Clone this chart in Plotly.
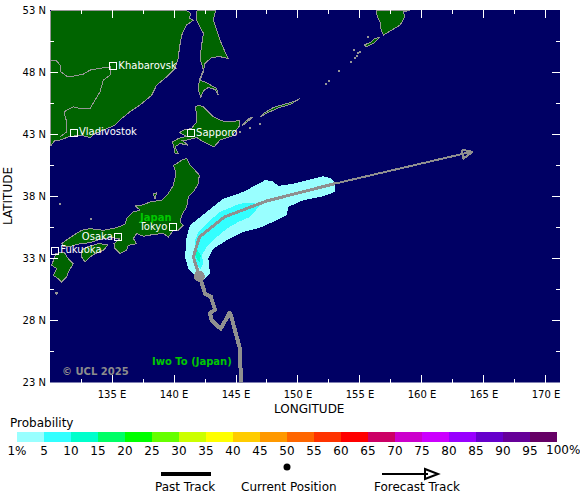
import plotly.graph_objects as go

W, H = 580, 502
OCEAN = "#000064"
LAND = "#006400"
COAST = "#969696"
TRACK = "#8f8f8f"
FONT = "DejaVu Sans"

# colour scale
prob_labels = ["1%", "5", "10", "15", "20", "25", "30", "35", "40", "45", "50",
               "55", "60", "65", "70", "75", "80", "85", "90", "95", ""]
prob_colors = ["#99ffff", "#33ffff", "#00ffcc", "#00ff66", "#00ff00", "#66ff00", "#ccff00",
               "#ffff00", "#ffcc00", "#ff9900", "#ff6600", "#ff3300", "#ff0000", "#cc0066",
               "#cc00cc", "#cc00ff", "#9900ff", "#6600cc", "#660099", "#660066"]

# axes
lon_ticks = [135, 140, 145, 150, 155, 160, 165, 170]
lon_labels = ["135 E", "140 E", "145 E", "150 E", "155 E", "160 E", "165 E", "170 E"]
lat_ticks = [23, 28, 33, 38, 43, 48, 53]
lat_labels = ["23 N", "28 N", "33 N", "38 N", "43 N", "48 N", "53 N"]

# storm track
past_lon = [145.40, 145.32, 144.52, 143.76, 143.04, 142.90, 143.31, 142.96, 142.50, 142.10]
past_lat = [22.90, 25.72, 28.67, 27.33, 28.00, 28.59, 28.86, 29.94, 30.15, 31.49]
now_lon = [142.04]
now_lat = [31.55]
fc_lon = [142.05, 141.56, 142.05, 144.06, 147.48, 152.99]
fc_lat = [31.55, 33.11, 34.72, 36.33, 37.62, 39.02]
fc_end_lon = [152.99, 164.01]
fc_end_lat = [39.02, 41.58]
head_lon = [163.20, 164.09, 163.34, 163.20]
head_lat = [41.76, 41.57, 41.04, 41.76]

# probability swaths
swath1 = [(152.99, 39.02), (152.99, 38.35), (152.05, 38.00), (150.43, 37.68), (149.22, 37.14),
          (149.09, 36.47), (148.28, 36.06), (146.94, 35.47), (145.59, 35.12), (144.25, 34.45),
          (143.17, 33.78), (142.77, 32.97), (142.91, 31.76), (142.37, 31.28), (141.70, 31.63),
          (141.16, 32.17), (140.89, 33.11), (141.02, 34.72), (141.29, 35.66), (142.10, 36.33),
          (142.91, 37.00), (143.98, 37.81), (145.59, 38.35), (146.67, 38.89), (147.34, 39.29),
          (147.88, 39.24), (148.42, 38.83), (149.63, 39.02), (150.97, 39.34), (152.05, 39.61),
          (152.72, 39.42)]
swath5 = [(146.94, 37.27), (146.13, 36.33), (145.19, 35.93), (144.25, 35.39), (143.31, 34.59),
          (142.64, 33.92), (142.23, 33.24), (142.37, 32.57), (142.15, 32.17), (141.83, 32.43),
          (141.62, 33.38), (141.70, 34.45), (141.97, 35.12), (142.91, 36.06), (143.71, 36.74),
          (145.33, 37.41), (146.40, 37.46)]
swath10 = [(141.83, 33.78), (142.15, 33.24), (142.10, 32.70), (141.88, 32.84), (141.72, 33.24)]

# land
russia = [(130.04, 52.96), (141.02, 52.96), (141.34, 52.73), (141.24, 52.33), (141.56, 52.19),
          (141.02, 51.79), (140.62, 50.98), (140.43, 49.91), (140.35, 49.10), (140.08, 48.30),
          (139.41, 47.62), (138.60, 46.95), (138.20, 46.14), (137.26, 45.34), (136.45, 44.81),
          (135.78, 44.26), (135.24, 43.72), (134.30, 43.32), (133.63, 43.05), (133.23, 42.73),
          (132.42, 42.92), (131.48, 42.78), (130.81, 42.52), (130.40, 42.52), (130.04, 42.03)]
border = [(130.0, 48.97), (130.54, 48.89), (130.81, 48.56), (130.86, 48.03), (131.34, 47.68),
          (131.88, 47.68), (132.69, 47.84), (133.23, 48.16), (134.30, 48.35), (134.89, 48.43),
          (134.84, 47.76), (134.30, 47.35), (134.03, 46.41), (133.63, 45.74), (133.23, 45.07),
          (132.42, 45.07), (131.88, 45.20), (131.13, 44.80), (131.34, 44.00), (131.34, 43.19),
          (130.81, 42.78)]
sakhalin = [(141.83, 52.96), (143.36, 52.96), (143.17, 52.19), (143.44, 51.39), (143.71, 50.58),
            (144.11, 49.64), (144.38, 49.10), (143.71, 49.24), (143.04, 49.18), (142.50, 48.70),
            (142.37, 48.03), (142.10, 47.35), (142.63, 47.14), (143.44, 46.68), (143.58, 46.14),
            (143.31, 46.60), (142.77, 46.76), (142.37, 46.49), (142.15, 45.96), (141.96, 46.55),
            (142.04, 47.35), (142.37, 48.16), (142.10, 49.10), (142.23, 50.18), (142.37, 51.12),
            (141.83, 52.19)]
hokkaido = [(141.96, 45.33), (142.37, 45.20), (142.77, 44.81), (143.17, 44.40), (143.85, 44.07),
            (144.65, 43.99), (145.32, 44.13), (145.32, 43.72), (144.92, 43.19), (144.65, 42.84),
            (143.71, 42.52), (143.23, 41.98), (142.37, 42.38), (141.83, 42.73), (141.02, 42.52),
            (140.62, 42.52), (141.16, 42.11), (140.48, 42.25), (140.08, 41.98), (140.35, 41.44),
            (140.08, 41.49), (139.89, 42.38), (140.35, 42.65), (141.02, 42.84), (140.43, 43.11),
            (140.75, 43.32), (141.42, 43.46), (141.83, 43.99), (141.83, 44.67), (141.69, 45.20)]
honshu = [(140.22, 40.63), (140.62, 40.90), (141.02, 41.04), (141.29, 40.50), (141.69, 40.10),
          (142.04, 39.70), (141.96, 39.02), (141.56, 38.35), (141.16, 37.95), (141.02, 37.14),
          (140.62, 36.47), (140.48, 35.93), (140.75, 35.66), (140.35, 35.26), (139.95, 35.26),
          (139.54, 34.72), (139.14, 34.99), (138.47, 34.94), (137.53, 34.78), (136.99, 35.00),
          (136.72, 34.59), (136.99, 34.18), (136.32, 34.05), (136.18, 33.65), (135.65, 33.38),
          (135.24, 33.78), (135.16, 34.18), (135.65, 34.59), (134.97, 34.67), (134.30, 34.59),
          (133.76, 34.45), (133.23, 34.26), (132.42, 34.18), (131.48, 33.91), (131.08, 33.97),
          (130.94, 34.18), (131.61, 34.67), (132.55, 35.26), (133.23, 35.39), (134.30, 35.26),
          (135.38, 35.47), (136.05, 35.74), (136.18, 36.20), (136.72, 36.74), (137.26, 36.87),
          (136.85, 37.27), (137.39, 37.27), (138.07, 37.54), (139.00, 37.68), (139.54, 38.22),
          (139.95, 38.89), (140.16, 39.83), (139.95, 40.50)]
shikoku = [(132.96, 33.91), (133.90, 34.18), (134.70, 34.10), (134.30, 33.65), (133.63, 33.38),
           (133.23, 33.11), (132.82, 32.71), (132.55, 33.11), (132.55, 33.65)]
kyushu = [(130.48, 33.38), (131.13, 33.51), (131.48, 32.97), (131.88, 32.57), (131.48, 31.90),
          (131.34, 31.50), (130.94, 31.09), (130.67, 31.36), (130.27, 31.63), (130.54, 32.17),
          (130.13, 32.44), (130.27, 32.84)]
kamchatka = [(156.29, 52.96), (156.40, 52.46), (156.61, 52.06), (156.67, 51.52), (156.88, 50.98),
             (157.55, 51.39), (158.23, 51.79), (158.63, 52.46), (158.49, 52.87), (159.03, 52.96)]
paramushir = [(155.32, 50.18), (155.81, 50.37), (156.21, 50.71), (156.61, 50.80), (156.08, 50.31),
              (155.54, 50.04)]
etorofu = [(150.16, 45.88), (149.62, 45.61), (148.95, 45.42), (148.01, 45.15), (147.21, 44.67),
           (146.94, 44.40), (147.60, 44.75), (148.50, 45.15), (149.40, 45.40)]
kunashiri = [(146.40, 44.40), (145.86, 43.99), (145.46, 43.64), (145.70, 43.95), (146.10, 44.30)]
sado = [(138.33, 38.22), (138.60, 38.27), (138.47, 37.81)]
tanegashima = [(130.40, 30.28), (130.67, 30.21), (130.54, 30.10)]
small_isles_lon = [155.67, 154.87, 155.00, 154.73, 154.54, 154.25, 154.62, 153.33, 152.26, 152.50,
                   146.94, 146.13, 145.32, 133.31, 130.80]
small_isles_lat = [50.85, 49.50, 49.64, 49.29, 49.77, 48.83, 49.10, 48.08, 47.08, 47.30,
                   43.78, 43.46, 43.18, 36.20, 37.40]

# cities
city_names = ["Khabarovsk", "Vladivostok", "Sapporo", "Fukuoka"]
city_lon = [135.08, 131.90, 141.35, 130.40]
city_lat = [48.48, 43.13, 43.06, 33.60]
city_left_names = ["Tokyo", "Osaka"]
city_left_lon = [139.90, 135.50]
city_left_lat = [35.50, 34.70]


def px_x(p):
    return p / W


def px_y(p):
    return (H - p) / H


def area(points, fill, line=None):
    xs = [p[0] for p in points] + [points[0][0]]
    ys = [p[1] for p in points] + [points[0][1]]
    return go.Scatter(x=xs, y=ys, mode="lines", fill="toself", fillcolor=fill,
                      line=dict(color=line or fill, width=1 if line else 0),
                      hoverinfo="skip", showlegend=False)


def label(x, y, text, size=12, anchor="center", angle=0):
    return dict(x=px_x(x), y=px_y(y), xref="paper", yref="paper", text=text, textangle=angle,
                xanchor=anchor, yanchor="middle", showarrow=False,
                font=dict(family=FONT, size=size, color="black"))


def map_label(lon, lat, text, color):
    return dict(x=lon, y=lat, xref="x", yref="y", text=f"<b>{text}</b>", xanchor="center",
                yanchor="middle", showarrow=False, font=dict(family=FONT, size=10, color=color))


fig = go.Figure()

for shape, col in [(swath1, prob_colors[0]), (swath5, prob_colors[1]), (swath10, prob_colors[2])]:
    fig.add_trace(area(shape, col))

for shape in [russia, sakhalin, hokkaido, honshu, shikoku, kyushu, kamchatka, paramushir,
              etorofu, kunashiri, sado, tanegashima]:
    fig.add_trace(area(shape, LAND, COAST))

fig.add_trace(go.Scatter(x=[p[0] for p in border], y=[p[1] for p in border], mode="lines",
                         line=dict(color=COAST, width=1), hoverinfo="skip", showlegend=False))
fig.add_trace(go.Scatter(x=small_isles_lon, y=small_isles_lat, mode="markers",
                         marker=dict(symbol="square", size=2, color=COAST),
                         hoverinfo="skip", showlegend=False))

# track
fig.add_trace(go.Scatter(x=past_lon, y=past_lat, mode="lines",
                         line=dict(color=TRACK, width=4), hoverinfo="skip", showlegend=False))
fig.add_trace(go.Scatter(x=fc_lon, y=fc_lat, mode="lines",
                         line=dict(color=TRACK, width=3), hoverinfo="skip", showlegend=False))
fig.add_trace(go.Scatter(x=fc_end_lon, y=fc_end_lat, mode="lines",
                         line=dict(color=TRACK, width=2), hoverinfo="skip", showlegend=False))
fig.add_trace(go.Scatter(x=head_lon, y=head_lat, mode="lines",
                         line=dict(color=TRACK, width=2), hoverinfo="skip", showlegend=False))
fig.add_trace(go.Scatter(x=now_lon, y=now_lat, mode="markers",
                         marker=dict(color=TRACK, size=11), hoverinfo="skip", showlegend=False))

# cities
fig.add_trace(go.Scatter(x=city_lon, y=city_lat, mode="markers+text", text=city_names,
                         textposition="middle right",
                         textfont=dict(family=FONT, size=10, color="white"),
                         marker=dict(symbol="square-open", size=7, color="white", line=dict(width=1)),
                         hoverinfo="skip", showlegend=False))
fig.add_trace(go.Scatter(x=city_left_lon, y=city_left_lat, mode="markers+text", text=city_left_names,
                         textposition="middle left",
                         textfont=dict(family=FONT, size=10, color="white"),
                         marker=dict(symbol="square-open", size=7, color="white", line=dict(width=1)),
                         hoverinfo="skip", showlegend=False))

# probability bar
fig.add_trace(go.Bar(x=[i + 0.5 for i in range(len(prob_colors))], y=[1] * len(prob_colors),
                     width=1, marker=dict(color=prob_colors, line=dict(width=0)),
                     xaxis="x2", yaxis="y2", hoverinfo="skip", showlegend=False))

notes = [
    map_label(138.47, 36.30, "Japan", "#00c800"),
    map_label(141.43, 24.72, "Iwo To (Japan)", "#00c800"),
    map_label(133.63, 23.89, "© UCL 2025", "#8c8c8c"),
    label(8, 423, "Probability", anchor="left"),
    label(185, 487, "Past Track"),
    label(289, 487, "Current Position"),
    label(417, 487, "Forecast Track"),
    label(309, 409, "LONGITUDE"),
    label(8, 196, "LATITUDE", angle=-90),
    label(563, 450, "100%"),
]

key_shapes = [
    dict(type="line", xref="paper", yref="paper", x0=px_x(161), x1=px_x(211), y0=px_y(474), y1=px_y(474),
         line=dict(color="black", width=4)),
    dict(type="circle", xref="paper", yref="paper", x0=px_x(283.5), x1=px_x(290.5), y0=px_y(470.5), y1=px_y(463.5),
         fillcolor="black", line=dict(width=0)),
    dict(type="line", xref="paper", yref="paper", x0=px_x(382), x1=px_x(428), y0=px_y(474), y1=px_y(474),
         line=dict(color="black", width=2)),
    dict(type="path", xref="paper", yref="paper",
         path=f"M {px_x(425)} {px_y(469)} L {px_x(438)} {px_y(474)} L {px_x(425)} {px_y(479)} Z",
         line=dict(color="black", width=2)),
]

fig.update_layout(
    width=W, height=H,
    margin=dict(l=0, r=0, t=0, b=0),
    paper_bgcolor="white",
    plot_bgcolor=OCEAN,
    font=dict(family=FONT, size=10, color="black"),
    showlegend=False,
    annotations=notes,
    shapes=key_shapes,
    xaxis=dict(domain=[px_x(50), px_x(560)], range=[130, 171.13], automargin=False,
               tickvals=lon_ticks, ticktext=lon_labels, ticks="inside", ticklen=8,
               tickcolor="white", tickwidth=1, mirror="ticks", showgrid=False, zeroline=False,
               showline=False, tickfont=dict(family=FONT, size=10, color="black"),
               ticklabelstandoff=4,
               minor=dict(ticks="inside", ticklen=4, tickcolor="white", tickwidth=1,
                          tick0=132.5, dtick=5, showgrid=False)),
    yaxis=dict(domain=[px_y(382.5), px_y(10)], range=[23, 53], automargin=False,
               tickvals=lat_ticks, ticktext=lat_labels, ticks="inside", ticklen=8,
               tickcolor="white", tickwidth=1, mirror="ticks", showgrid=False, zeroline=False,
               showline=False, tickfont=dict(family=FONT, size=10, color="black"),
               ticklabelstandoff=3,
               minor=dict(ticks="inside", ticklen=4, tickcolor="white", tickwidth=1,
                          tick0=25.5, dtick=5, showgrid=False)),
    xaxis2=dict(domain=[px_x(17), px_x(557)], range=[0, 20], anchor="y2", automargin=False,
                tickvals=list(range(len(prob_labels))), ticktext=prob_labels, ticks="",
                showgrid=False, zeroline=False, showline=False, tickangle=0,
                tickfont=dict(family=FONT, size=12, color="black")),
    yaxis2=dict(domain=[px_y(442), px_y(432)], range=[0, 1], anchor="x2", automargin=False,
                showticklabels=False, ticks="", showgrid=False, zeroline=False, showline=False),
)

crisp = """
document.body.style.margin = '0';
document.querySelectorAll('.scatterlayer path').forEach(function (p) {
    p.style.shapeRendering = 'crispEdges';
});
"""

fig.write_html("out.html", config={"displayModeBar": False}, post_script=crisp)
